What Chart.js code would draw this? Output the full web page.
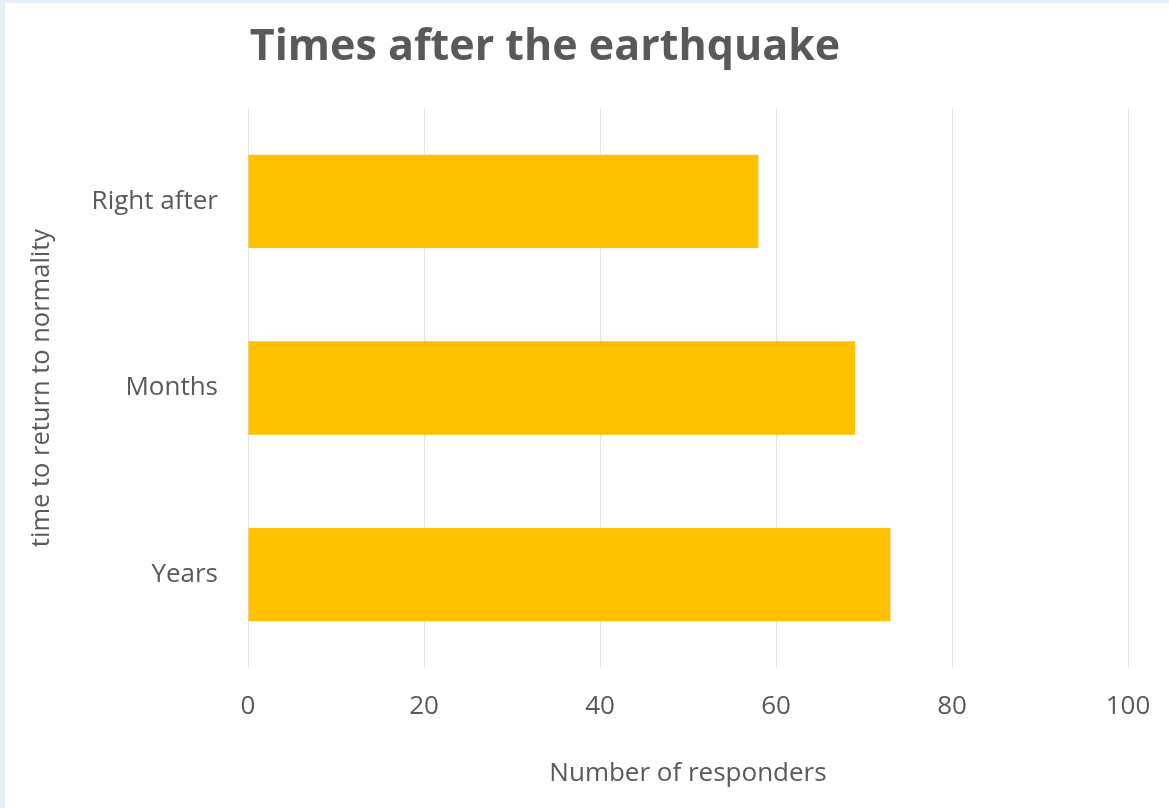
<!DOCTYPE html>
<html>
<head>
<meta charset="utf-8">
<script src="https://cdn.jsdelivr.net/npm/chart.js@4/dist/chart.umd.min.js"></script>
<style>
  html, body { margin: 0; padding: 0; background: #e8eef7; }
  body { width: 1169px; height: 808px; overflow: hidden; }
  #wrap { position: absolute; left: 5px; top: 3px; width: 1164px; height: 805px; background: #ffffff; }
  canvas { display: block; }
</style>
</head>
<body>
<div id="wrap"><canvas id="chart" width="1164" height="805"></canvas></div>
<script>
// Survey answers: how long until life returned to normal
const categories = ['Right after', 'Months', 'Years'];
const responders = [58, 69, 73];
const xTicks = [0, 20, 40, 60, 80, 100];

const chartTitle = 'Times after the earthquake';
const xTitle = 'Number of responders';
const yTitle = 'time to return to normality';

const textColor = '#595959';
const fontFamily = "'Open Sans', 'Liberation Sans', sans-serif";

// Title drawn over the left part of the canvas, like the workbook layout
const titlePlugin = {
  id: 'leftTitle',
  afterDraw(chart) {
    const ctx = chart.ctx;
    ctx.save();
    ctx.fillStyle = textColor;
    ctx.font = "bold 43px " + fontFamily;
    ctx.textAlign = 'center';
    ctx.textBaseline = 'middle';
    ctx.fillText(chartTitle, 540, 45);
    ctx.restore();
  }
};

new Chart(document.getElementById('chart'), {
  type: 'bar',
  data: {
    labels: categories,
    datasets: [{
      data: responders,
      backgroundColor: '#FFC000',
      borderWidth: 0,
      categoryPercentage: 0.5,
      barPercentage: 1.0
    }]
  },
  plugins: [titlePlugin],
  options: {
    indexAxis: 'y',
    responsive: false,
    animation: false,
    layout: { padding: { top: 105, right: 41, left: 17, bottom: 0 } },
    plugins: {
      legend: { display: false },
      title: { display: false },
      tooltip: { enabled: false }
    },
    scales: {
      x: {
        min: 0,
        max: 100,
        afterBuildTicks(scale) {
          scale.ticks = xTicks.map(v => ({ value: v }));
        },
        afterFit(scale) {
          scale.height = 140;
          scale.paddingLeft = 0;
          scale.paddingRight = 0;
        },
        grid: { color: '#e3e3e3', lineWidth: 1, drawTicks: false },
        border: { display: false },
        ticks: { color: textColor, font: { family: fontFamily, size: 26 }, padding: 23 },
        title: {
          display: true,
          text: xTitle,
          color: textColor,
          font: { family: fontFamily, size: 26 },
          padding: { top: 12, bottom: 19 }
        }
      },
      y: {
        afterFit(scale) { scale.width = 226; },
        grid: { display: false, drawTicks: false },
        border: { display: false },
        ticks: { color: textColor, font: { family: fontFamily, size: 26 }, padding: 30 },
        title: {
          display: true,
          text: yTitle,
          color: textColor,
          font: { family: fontFamily, size: 25.5 },
          padding: { bottom: 0 }
        }
      }
    }
  }
});
</script>
</body>
</html>
